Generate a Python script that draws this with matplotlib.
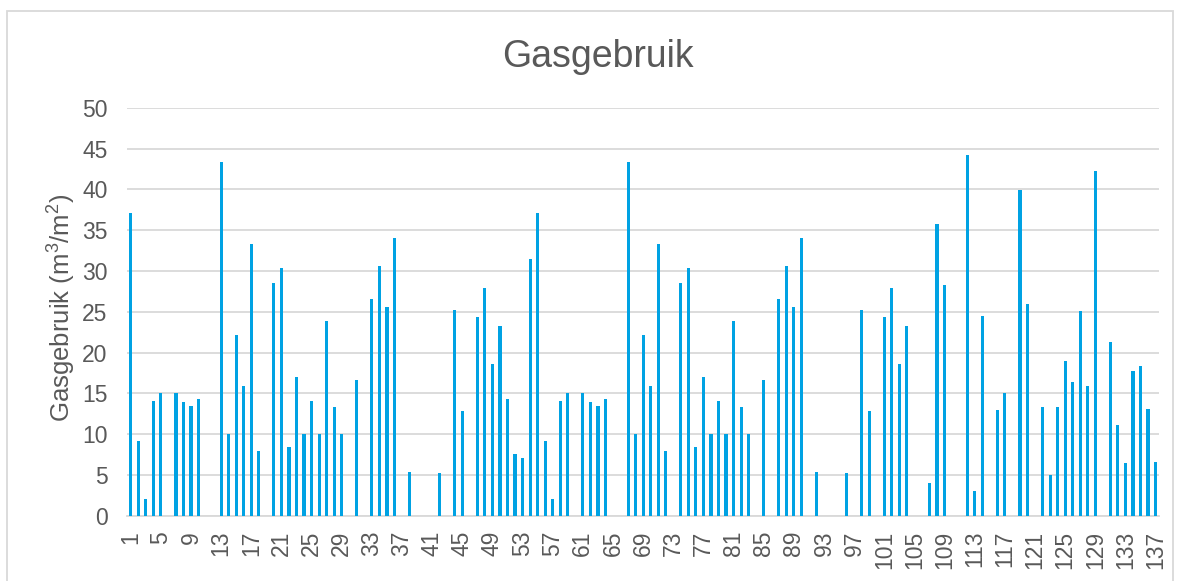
import matplotlib
matplotlib.use('Agg')
import matplotlib.pyplot as plt
from matplotlib.patches import Rectangle
import numpy as np

# ==================== DATA ====================
categories = list(range(1, 138))

gas_use = [
    37.1, 9.2, 2.1, 14.1, 15.0, 0, 15.0, 13.9, 13.4, 14.3,
    0, 0, 43.3, 10.0, 22.2, 15.9, 33.3, 7.9, 0, 28.5,
    30.3, 8.4, 17.0, 10.0, 14.1, 10.0, 23.9, 13.3, 10.0, 0,
    16.6, 0, 26.6, 30.6, 25.6, 34.0, 0, 5.3, 0, 0,
    0, 5.2, 0, 25.2, 12.8, 0, 24.4, 27.9, 18.6, 23.3,
    14.3, 7.5, 7.1, 31.4, 37.1, 9.2, 2.1, 14.1, 15.0, 0,
    15.0, 13.9, 13.4, 14.3, 0, 0, 43.3, 10.0, 22.2, 15.9,
    33.3, 7.9, 0, 28.5, 30.3, 8.4, 17.0, 10.0, 14.1, 10.0,
    23.9, 13.3, 10.0, 0, 16.6, 0, 26.6, 30.6, 25.6, 34.0,
    0, 5.3, 0, 0, 0, 5.2, 0, 25.2, 12.8, 0,
    24.4, 27.9, 18.6, 23.3, 0, 0, 4.0, 35.7, 28.3, 0,
    0, 44.2, 3.0, 24.5, 0, 13.0, 15.0, 0, 39.9, 25.9,
    0, 13.3, 5.0, 13.3, 19.0, 16.4, 25.1, 15.9, 42.3, 0,
    21.3, 11.1, 6.5, 17.7, 18.3, 13.1, 6.6,
]

y_ticks = [0, 5, 10, 15, 20, 25, 30, 35, 40, 45, 50]
x_tick_labels = categories[::4]

# ==================== STYLE ====================
plt.rcParams['font.family'] = ['Liberation Sans', 'DejaVu Sans']
plt.rcParams['mathtext.fontset'] = 'custom'
plt.rcParams['mathtext.rm'] = 'Liberation Sans'
plt.rcParams['mathtext.default'] = 'regular'
text_color = '#595959'
grid_color = '#d9d9d9'
bar_color = '#00A2E3'

fig = plt.figure(figsize=(11.8, 5.81), dpi=100)
ax = fig.add_axes([0.1076, 0.1124, 0.8749, 0.7022])

x = np.arange(len(categories))
ax.bar(x, gas_use, width=0.42, color=bar_color, zorder=3)

ax.set_xlim(-0.5, len(categories) - 0.5)
ax.set_ylim(0, 50)
ax.set_yticks(y_ticks)
ax.set_xticks(x[::4])
ax.set_xticklabels([str(c) for c in x_tick_labels], rotation=90, va='top', ha='center')

ax.grid(axis='y', color=grid_color, linewidth=1.3, zorder=0)
for side in ['top', 'right', 'left']:
    ax.spines[side].set_visible(False)
ax.spines['bottom'].set_color(grid_color)
ax.spines['bottom'].set_linewidth(1.3)
ax.tick_params(axis='both', length=0, labelsize=16.5, colors=text_color)
ax.tick_params(axis='y', pad=14)
ax.tick_params(axis='x', pad=11)

ax.set_ylabel('Gasgebruik (m$^3$/m$^2$)', fontsize=18.5, color=text_color, va='center')
ax.yaxis.set_label_coords(-0.0633, 0.51)
fig.text(0.507, 0.885, 'Gasgebruik', fontsize=27, color=text_color,
         ha='center', va='baseline')

# outer chart border
fig.patches.append(Rectangle((7 / 1180, -0.02), 1166 / 1180, 1.0 - 11 / 581 + 0.02,
                             transform=fig.transFigure, fill=False,
                             edgecolor=grid_color, linewidth=1.3))

plt.savefig('out.png', dpi=100)
plt.close()
